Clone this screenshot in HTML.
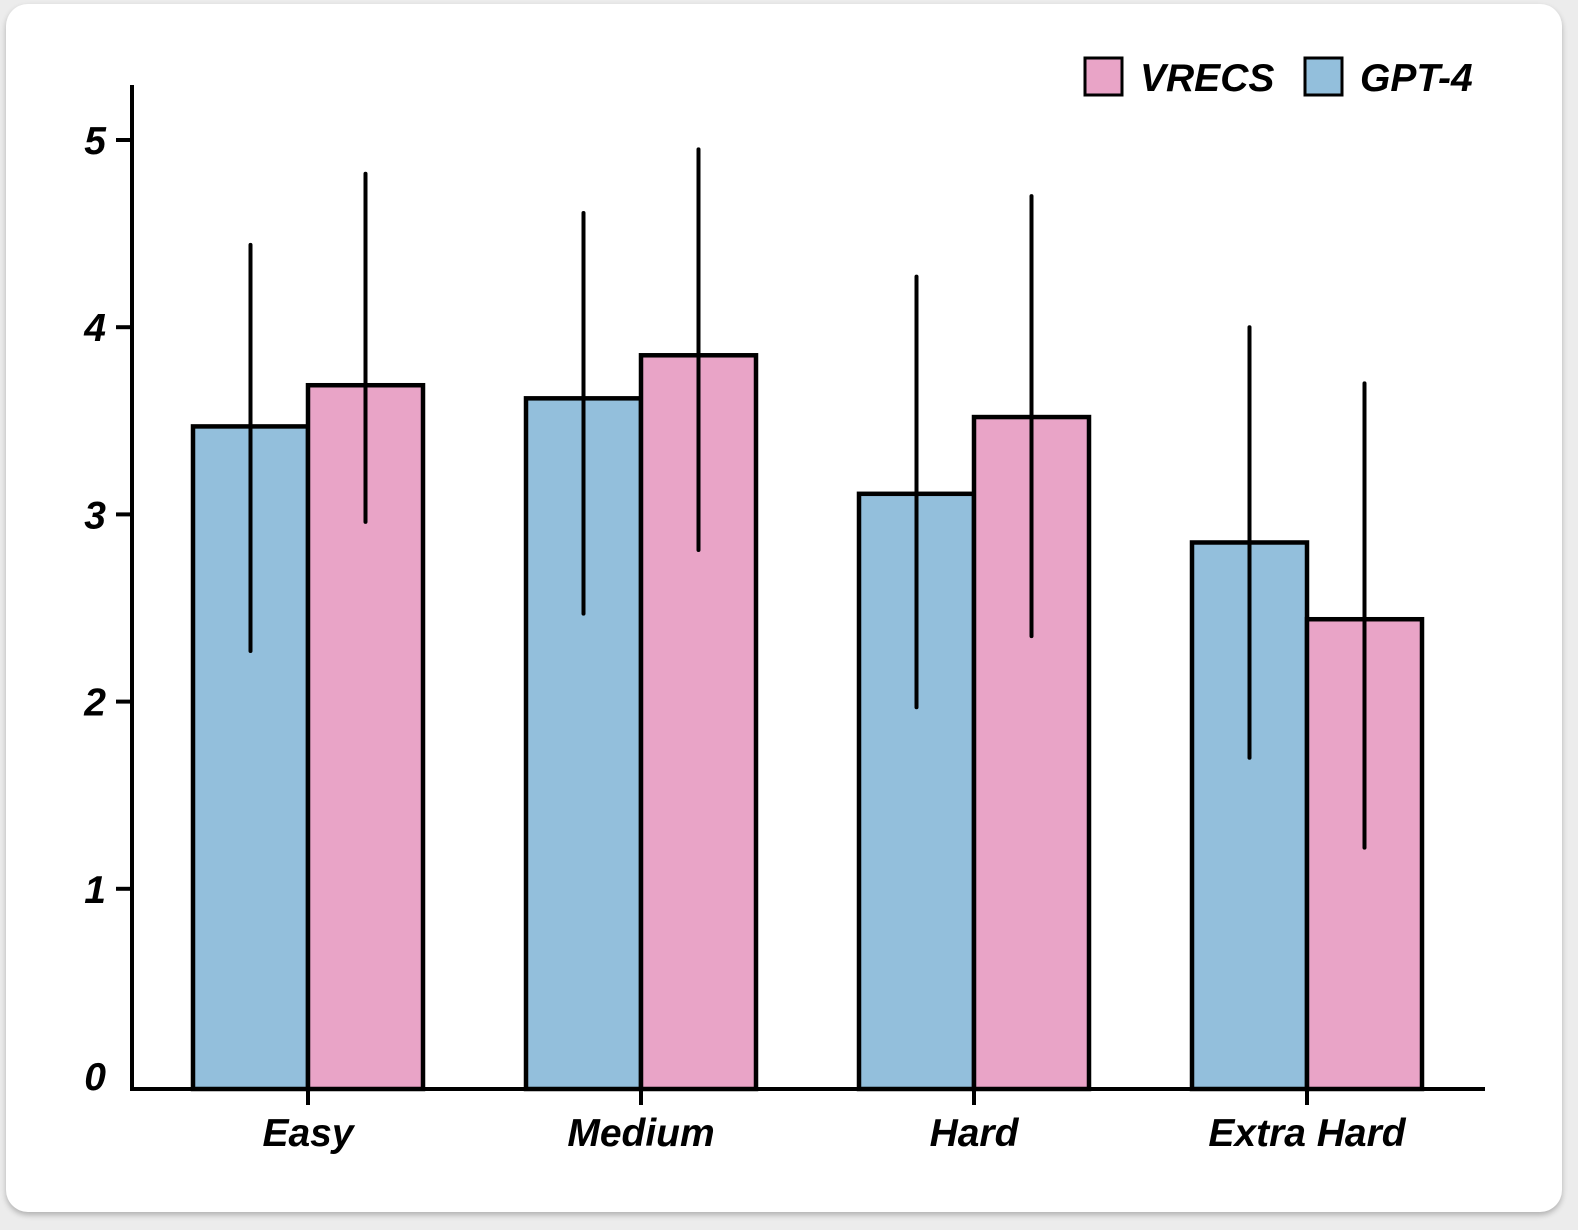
<!DOCTYPE html>
<html><head><meta charset="utf-8"><style>
body{margin:0;background:#ececec;width:1578px;height:1230px;overflow:hidden}
#card{position:absolute;left:6px;top:4px;width:1556px;height:1208px;background:#fff;border-radius:22px;box-shadow:0 3px 6px rgba(0,0,0,0.25)}
svg{position:absolute;left:0;top:0}
text{font-family:"Liberation Sans",sans-serif;font-weight:bold;font-style:italic;fill:#000}
</style></head><body>
<div id="card"></div>
<svg id="chart" width="1578" height="1230"></svg>
<script>
const categories=["Easy","Medium","Hard","Extra Hard"];
const gptValues=[3.47,3.62,3.11,2.85];
const gptErrUp=[0.97,0.99,1.16,1.15];
const gptErrDown=[1.20,1.15,1.14,1.15];
const vrecsValues=[3.69,3.85,3.52,2.44];
const vrecsErrUp=[1.13,1.10,1.18,1.26];
const vrecsErrDown=[0.73,1.04,1.17,1.22];
const yTicks=[0,1,2,3,4,5];
const NS="http://www.w3.org/2000/svg";
const svg=document.getElementById('chart');
const y0=1076,unit=187.2,axisBottom=1089;
function yScale(v){return y0-unit*v;}
function xCenter(i){return 308+333*i;}
const bw=115;
function mk(tag,attrs,parent){const e=document.createElementNS(NS,tag);for(const k in attrs)e.setAttribute(k,attrs[k]);(parent||svg).appendChild(e);return e;}
function bar(i,val,up,down,color,left,name){
  const x=left?xCenter(i)-bw:xCenter(i);
  const r=mk('rect',{x:x,y:yScale(val),width:bw,height:axisBottom-yScale(val),fill:color,stroke:'#000','stroke-width':4.5});
  
  
  const l=mk('line',{x1:x+bw/2,x2:x+bw/2,y1:yScale(val+up),y2:yScale(val-down),stroke:'#000','stroke-width':4,'stroke-linecap':'round'});
  
  
}
categories.forEach((c,i)=>{
  bar(i,gptValues[i],gptErrUp[i],gptErrDown[i],'#93bfdc',true,'gpt4');
  bar(i,vrecsValues[i],vrecsErrUp[i],vrecsErrDown[i],'#e9a4c7',false,'vrecs');
  const t=mk('line',{x1:xCenter(i),x2:xCenter(i),y1:axisBottom,y2:1105,stroke:'#000','stroke-width':4});
  
  
  const lb=mk('text',{x:xCenter(i),y:1146,'text-anchor':'middle','font-size':39});
  lb.textContent=c;
  
  
});
yTicks.forEach(v=>{
  if(v>0){const t=mk('line',{x1:116,x2:132,y1:yScale(v),y2:yScale(v),stroke:'#000','stroke-width':4});
  
  }
  const lb=mk('text',{x:106,y:yScale(v)+14,'text-anchor':'end','font-size':39});
  lb.textContent=v;
  
  
});
const ya=mk('line',{x1:132,x2:132,y1:85,y2:1091,stroke:'#000','stroke-width':4});


const xa=mk('line',{x1:130,x2:1485,y1:axisBottom,y2:axisBottom,stroke:'#000','stroke-width':4});


[[1085,'#e9a4c7','VRECS',1140],[1305,'#93bfdc','GPT-4',1360]].forEach(([x,col,lab,tx])=>{
  const g=mk('g',{});
  
  
  mk('rect',{x:x,y:58,width:37,height:37,fill:col,stroke:'#000','stroke-width':3},g);
  const t=mk('text',{x:tx,y:91,'font-size':39},g);t.textContent=lab;
});
</script>
</body></html>
